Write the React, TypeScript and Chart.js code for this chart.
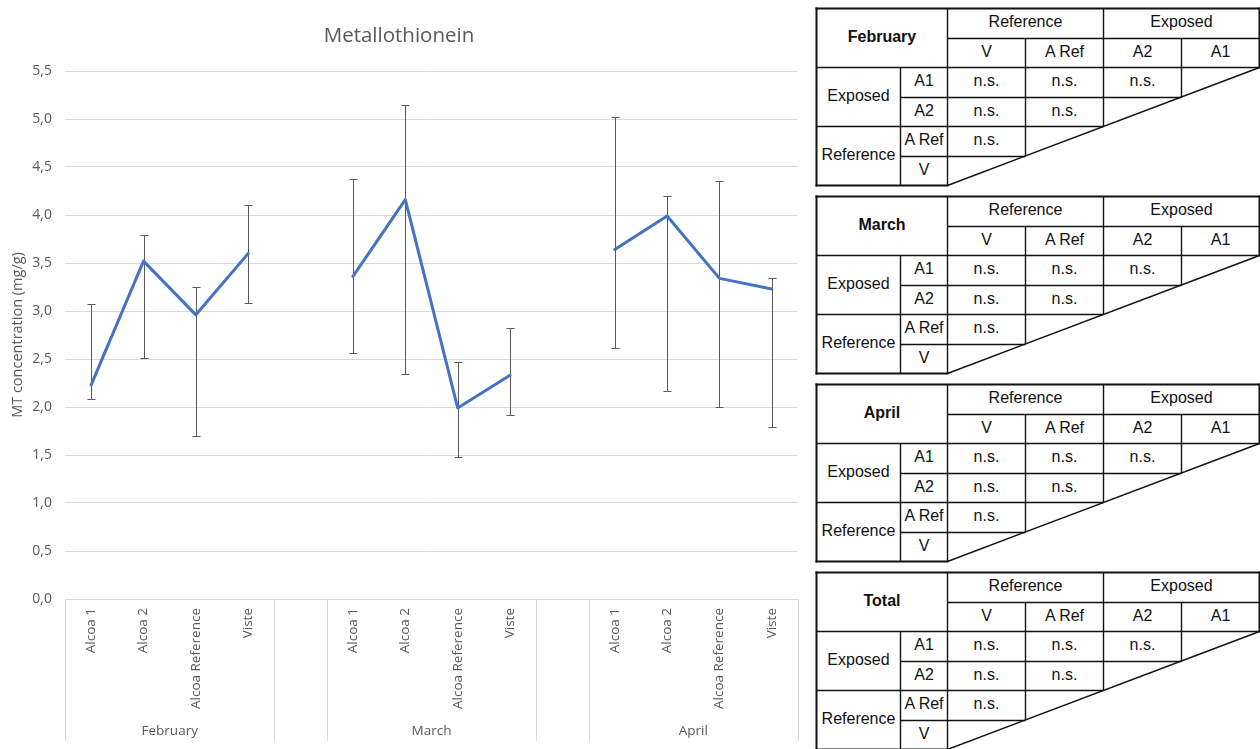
import React, { useEffect, useRef } from 'react';
import { Chart, registerables } from 'chart.js';

Chart.register(...registerables);

// ---------------- Data ----------------
const months = ['February', 'March', 'April'];
const sites = ['Alcoa 1', 'Alcoa 2', 'Alcoa Reference', 'Viste'];

const febMean = [2.23, 3.52, 2.96, 3.6];
const febUpper = [3.07, 3.79, 3.25, 4.1];
const febLower = [2.08, 2.51, 1.7, 3.08];

const marMean = [3.36, 4.16, 1.99, 2.33];
const marUpper = [4.38, 5.15, 2.47, 2.82];
const marLower = [2.56, 2.34, 1.48, 1.92];

const aprMean = [3.64, 3.99, 3.34, 3.23];
const aprUpper = [5.02, 4.2, 4.35, 3.34];
const aprLower = [2.61, 2.17, 2.0, 1.79];

const yMin = 0;
const yMax = 5.5;
const yStep = 0.5;

const chartTitle = 'Metallothionein';
const yAxisTitle = 'MT concentration (mg/g)';

// Significance tables
const tableTitles = ['February', 'March', 'April', 'Total'];
const colGroups = ['Reference', 'Exposed'];
const colLabels = ['V', 'A Ref', 'A2', 'A1'];
const rowGroups = ['Exposed', 'Reference'];
const rowLabels = ['A1', 'A2', 'A Ref', 'V'];
const febCells = [['n.s.', 'n.s.', 'n.s.'], ['n.s.', 'n.s.'], ['n.s.'], []];
const marCells = [['n.s.', 'n.s.', 'n.s.'], ['n.s.', 'n.s.'], ['n.s.'], []];
const aprCells = [['n.s.', 'n.s.', 'n.s.'], ['n.s.', 'n.s.'], ['n.s.'], []];
const totalCells = [['n.s.', 'n.s.', 'n.s.'], ['n.s.', 'n.s.'], ['n.s.'], []];

// ---------------- Build flat series ----------------
const groupMeans = [febMean, marMean, aprMean];
const groupUppers = [febUpper, marUpper, aprUpper];
const groupLowers = [febLower, marLower, aprLower];

const labels: string[] = [];
const meanData: (number | null)[] = [];
const upperData: (number | null)[] = [];
const lowerData: (number | null)[] = [];
const groupRanges: { name: string; start: number; end: number }[] = [];

months.forEach((m, gi) => {
  if (gi > 0) {
    labels.push('');
    meanData.push(null);
    upperData.push(null);
    lowerData.push(null);
  }
  const start = labels.length;
  sites.forEach((s, i) => {
    labels.push(s);
    meanData.push(groupMeans[gi][i]);
    upperData.push(groupUppers[gi][i]);
    lowerData.push(groupLowers[gi][i]);
  });
  groupRanges.push({ name: m, start, end: labels.length - 1 });
});

const TEXT = '#595959';
const GRID = '#d9d9d9';
const FONT = "'Open Sans', 'Noto Sans', sans-serif";

const errorBarPlugin = {
  id: 'errorBars',
  beforeDatasetsDraw(chart: any) {
    const { ctx, scales } = chart;
    const x = scales.x;
    const y = scales.y;
    ctx.save();
    ctx.strokeStyle = '#595959';
    ctx.lineWidth = 1;
    for (let i = 0; i < upperData.length; i++) {
      const u = upperData[i];
      const l = lowerData[i];
      if (u == null || l == null) continue;
      const px = Math.round(x.getPixelForValue(i)) + 0.5;
      const top = Math.round(y.getPixelForValue(u)) + 0.5;
      const bot = Math.round(y.getPixelForValue(l)) + 0.5;
      ctx.beginPath();
      ctx.moveTo(px, top);
      ctx.lineTo(px, bot);
      ctx.moveTo(px - 4, top);
      ctx.lineTo(px + 4, top);
      ctx.moveTo(px - 4, bot);
      ctx.lineTo(px + 4, bot);
      ctx.stroke();
    }
    ctx.restore();
  },
};

const groupAxisPlugin = {
  id: 'groupAxis',
  afterDraw(chart: any) {
    const { ctx, chartArea } = chart;
    const x = chart.scales.x;
    const step = x.getPixelForValue(1) - x.getPixelForValue(0);
    const bounds: number[] = [];
    groupRanges.forEach((g) => {
      bounds.push(x.getPixelForValue(g.start) - step / 2);
      bounds.push(x.getPixelForValue(g.end) + step / 2);
    });
    ctx.save();
    ctx.strokeStyle = GRID;
    ctx.lineWidth = 1;
    bounds.forEach((b) => {
      const px = Math.round(b) + 0.5;
      ctx.beginPath();
      ctx.moveTo(px, chartArea.bottom);
      ctx.lineTo(px, chartArea.bottom + 142);
      ctx.stroke();
    });
    ctx.fillStyle = TEXT;
    ctx.font = `13.5px ${FONT}`;
    ctx.textAlign = 'center';
    ctx.textBaseline = 'middle';
    groupRanges.forEach((g) => {
      const cx = (x.getPixelForValue(g.start) + x.getPixelForValue(g.end)) / 2;
      ctx.fillText(g.name, cx, chartArea.bottom + 132);
    });
    ctx.restore();
  },
};

function MTChart() {
  const ref = useRef<HTMLCanvasElement | null>(null);
  useEffect(() => {
    if (!ref.current) return;
    const chart = new Chart(ref.current, {
      type: 'line',
      data: {
        labels,
        datasets: [
          {
            label: 'MT',
            data: meanData,
            borderColor: '#4472C4',
            backgroundColor: '#4472C4',
            borderWidth: 3,
            pointRadius: 0,
            pointHoverRadius: 0,
            tension: 0,
            spanGaps: false,
            borderJoinStyle: 'round',
            borderCapStyle: 'round',
          },
        ],
      },
      options: {
        animation: false,
        responsive: false,
        maintainAspectRatio: false,
        layout: { padding: { left: 0, right: 8, top: 0, bottom: 0 } },
        plugins: {
          legend: { display: false },
          tooltip: { enabled: false },
          title: {
            display: true,
            text: chartTitle,
            color: TEXT,
            font: { family: FONT, size: 20.5, weight: 'normal' },
            padding: { top: 24, bottom: 22.4 },
          },
        },
        scales: {
          x: {
            type: 'category',
            offset: true,
            grid: { display: false, drawTicks: false },
            border: { display: true, color: GRID },
            ticks: {
              autoSkip: false,
              minRotation: 90,
              maxRotation: 90,
              padding: 9,
              color: TEXT,
              font: { family: FONT, size: 13.5 },
            },
            afterFit(scale: any) {
              scale.height = 150;
            },
          },
          y: {
            min: yMin,
            max: yMax,
            grid: { color: GRID, drawTicks: false },
            border: { display: false },
            ticks: {
              stepSize: yStep,
              padding: 13,
              color: TEXT,
              font: { family: FONT, size: 14 },
              callback: (v: any) => Number(v).toFixed(1).replace('.', ','),
            },
            title: {
              display: true,
              text: yAxisTitle,
              color: TEXT,
              font: { family: FONT, size: 14.5, weight: 'normal' },
              padding: { top: 9, bottom: 0 },
            },
            afterFit(scale: any) {
              scale.width = 65;
            },
          },
        },
      },
      plugins: [errorBarPlugin, groupAxisPlugin],
    } as any);
    return () => chart.destroy();
  }, []);
  return <canvas ref={ref} width={806} height={749} style={{ display: 'block' }} />;
}

// ---------------- Tables ----------------
const COLS = [816.5, 900.5, 947.5, 1025.5, 1103.5, 1181.5, 1259.5].map((v) => v - 810);
const ROW_H = 29.5;
const TABLE_TOPS = [8, 196, 384, 572];

function SigTable({ top, title, cells }: { top: number; title: string; cells: string[][] }) {
  const c = COLS;
  const r = [0, 1, 2, 3, 4, 5, 6].map((k) => Math.round(top + k * ROW_H) + 0.5);
  const inner: number[][] = [
    [c[2], r[1], c[6], r[1]],
    [c[0], r[2], c[6], r[2]],
    [c[1], r[3], c[5], r[3]],
    [c[0], r[4], c[4], r[4]],
    [c[1], r[5], c[3], r[5]],
    [c[1], r[2], c[1], r[6]],
    [c[2], r[0], c[2], r[6]],
    [c[3], r[1], c[3], r[5]],
    [c[4], r[0], c[4], r[4]],
    [c[5], r[1], c[5], r[3]],
  ];
  const outer: number[][] = [
    [c[0], r[0], c[6], r[0]],
    [c[0], r[0], c[0], r[6]],
    [c[0], r[6], c[2], r[6]],
    [c[6], r[0], c[6], r[2]],
  ];
  const mid = (a: number, b: number) => (a + b) / 2;
  const texts: { x: number; y: number; t: string; bold?: boolean }[] = [];
  texts.push({ x: mid(c[0], c[2]), y: mid(r[0], r[2]), t: title, bold: true });
  texts.push({ x: mid(c[2], c[4]), y: mid(r[0], r[1]), t: colGroups[0] });
  texts.push({ x: mid(c[4], c[6]), y: mid(r[0], r[1]), t: colGroups[1] });
  colLabels.forEach((l, i) => texts.push({ x: mid(c[2 + i], c[3 + i]), y: mid(r[1], r[2]), t: l }));
  texts.push({ x: mid(c[0], c[1]), y: mid(r[2], r[4]), t: rowGroups[0] });
  texts.push({ x: mid(c[0], c[1]), y: mid(r[4], r[6]), t: rowGroups[1] });
  rowLabels.forEach((l, i) => texts.push({ x: mid(c[1], c[2]), y: mid(r[2 + i], r[3 + i]), t: l }));
  cells.forEach((row, ri) =>
    row.forEach((v, ci) => texts.push({ x: mid(c[2 + ci], c[3 + ci]), y: mid(r[2 + ri], r[3 + ri]), t: v }))
  );
  return (
    <g>
      {inner.map((l, i) => (
        <line key={'i' + i} x1={l[0]} y1={l[1]} x2={l[2]} y2={l[3]} stroke="#111" strokeWidth={1.4} />
      ))}
      {outer.map((l, i) => (
        <line key={'o' + i} x1={l[0]} y1={l[1]} x2={l[2]} y2={l[3]} stroke="#111" strokeWidth={2} strokeLinecap="square" />
      ))}
      <line x1={c[2]} y1={r[6]} x2={c[6]} y2={r[2]} stroke="#111" strokeWidth={1.4} />
      {texts.map((t, i) => (
        <text
          key={'t' + i}
          x={t.x}
          y={t.y - 2}
          textAnchor="middle"
          dominantBaseline="central"
          fontFamily="'Liberation Sans', Arial, sans-serif"
          fontSize={16}
          fontWeight={t.bold ? 'bold' : 'normal'}
          fill="#111"
        >
          {t.t}
        </text>
      ))}
    </g>
  );
}

const allCells = [febCells, marCells, aprCells, totalCells];

export default function App() {
  return (
    <div
      style={{
        position: 'fixed',
        left: 0,
        top: 0,
        width: 1260,
        height: 749,
        background: '#fff',
        overflow: 'hidden',
      }}
    >
      <div style={{ position: 'absolute', left: 0, top: 0, width: 806, height: 749 }}>
        <MTChart />
      </div>
      <svg
        width={450}
        height={749}
        style={{ position: 'absolute', left: 810, top: 0, display: 'block' }}
      >
        {tableTitles.map((t, i) => (
          <SigTable key={t} top={TABLE_TOPS[i]} title={t} cells={allCells[i]} />
        ))}
      </svg>
    </div>
  );
}
